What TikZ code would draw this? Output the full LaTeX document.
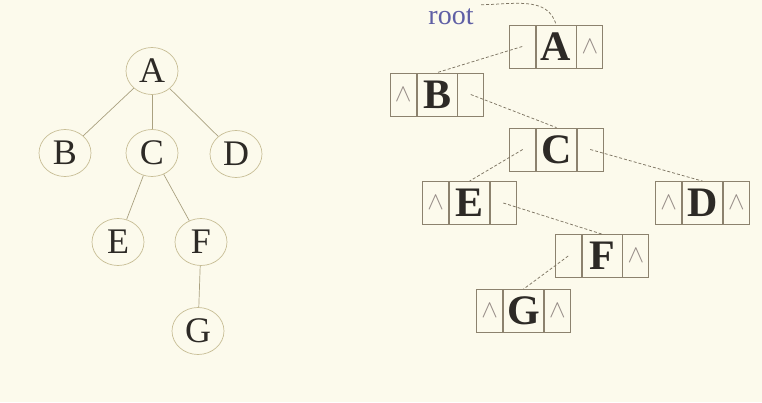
\documentclass[tikz,border=0pt]{standalone}
\usepackage{fontspec}
\setmainfont{Liberation Serif}
\usepackage{tikz}
\usetikzlibrary{positioning, shapes.geometric}

\definecolor{paper}{RGB}{252,250,236}
\definecolor{ring}{RGB}{200,190,150}
\definecolor{frame}{RGB}{140,130,110}
\definecolor{ink}{RGB}{45,42,38}
\definecolor{nullgray}{RGB}{150,140,135}
\definecolor{rootblue}{RGB}{95,95,165}

\begin{document}
\begin{tikzpicture}[x=1pt, y=-1pt,
    treenode/.style={ellipse, draw=ring, line width=0.7pt, minimum width=52pt, minimum height=47pt, inner sep=0pt, text=ink, font=\fontsize{36}{36}\selectfont},
    treeedge/.style={ring!85!black, line width=0.7pt},
    cell/.style={rectangle, draw=frame, line width=0.8pt, minimum height=43pt, inner sep=0pt},
    datacell/.style={cell, minimum width=40pt, text=ink, font=\fontsize{42}{42}\selectfont\bfseries},
    ptrcell/.style={cell, minimum width=26pt, text=nullgray, font=\fontsize{25}{25}\selectfont},
    ptr/.style={frame!90!black, line width=0.75pt, densely dashed}]

        % --- BACKGROUND ---
        \fill[paper] (0,0) rectangle (762,402);
        \useasboundingbox (0,0) rectangle (762,402);

        % --- TREE (LEFT) ---
        \node[treenode] (A) at (152,71) {A};
        \node[treenode] (B) at (65,153) {B};
        \node[treenode] (C) at (152,153) {C};
        \node[treenode] (D) at (236,154) {D};
        \node[treenode] (E) at (118,242) {E};
        \node[treenode] (F) at (201,242) {F};
        \node[treenode] (G) at (198,331) {G};

        \draw[treeedge] (A) -- (B);
        \draw[treeedge] (A) -- (C);
        \draw[treeedge] (A) -- (D);
        \draw[treeedge] (C) -- (E);
        \draw[treeedge] (C) -- (F);
        \draw[treeedge] (F) -- (G);

        % --- LINKED NODES (RIGHT) ---
        % data cell first, then left and right pointer cells
        \node[datacell] (bA) at (556,46.5) {A};
        \node[ptrcell, left=0pt of bA] (bAl) {};
        \node[ptrcell, right=0pt of bA] (bAr) {$\wedge$};

        \node[datacell] (bB) at (437,94.5) {B};
        \node[ptrcell, left=0pt of bB] (bBl) {$\wedge$};
        \node[ptrcell, right=0pt of bB] (bBr) {};

        \node[datacell] (bC) at (556.5,149.5) {C};
        \node[ptrcell, left=0pt of bC] (bCl) {};
        \node[ptrcell, right=0pt of bC] (bCr) {};

        \node[datacell] (bE) at (469.5,203) {E};
        \node[ptrcell, left=0pt of bE] (bEl) {$\wedge$};
        \node[ptrcell, right=0pt of bE] (bEr) {};

        \node[datacell] (bD) at (702.5,203) {D};
        \node[ptrcell, left=0pt of bD] (bDl) {$\wedge$};
        \node[ptrcell, right=0pt of bD] (bDr) {$\wedge$};

        \node[datacell] (bF) at (602,256) {F};
        \node[ptrcell, left=0pt of bF] (bFl) {};
        \node[ptrcell, right=0pt of bF] (bFr) {$\wedge$};

        \node[datacell] (bG) at (523.5,311) {G};
        \node[ptrcell, left=0pt of bG] (bGl) {$\wedge$};
        \node[ptrcell, right=0pt of bG] (bGr) {$\wedge$};

        % Root pointer
        \node[text=rootblue, font=\fontsize{28}{28}\selectfont, anchor=base] (root) at (451,24) {root};
        \coordinate (rootstart) at ([xshift=4pt]root.north east);
        \draw[ptr] (rootstart) to[out=0, in=105] (bA.north);

        % Child pointers
        \draw[ptr] (bAl.center) -- (bB.north);
        \draw[ptr] (bBr.center) -- (bC.north);
        \draw[ptr] (bCl.center) -- (bE.north);
        \draw[ptr] (bCr.center) -- (bD.north);
        \draw[ptr] (bEr.center) -- (bF.north);
        \draw[ptr] (bFl.center) -- (bG.north);
    \end{tikzpicture}
\end{document}
